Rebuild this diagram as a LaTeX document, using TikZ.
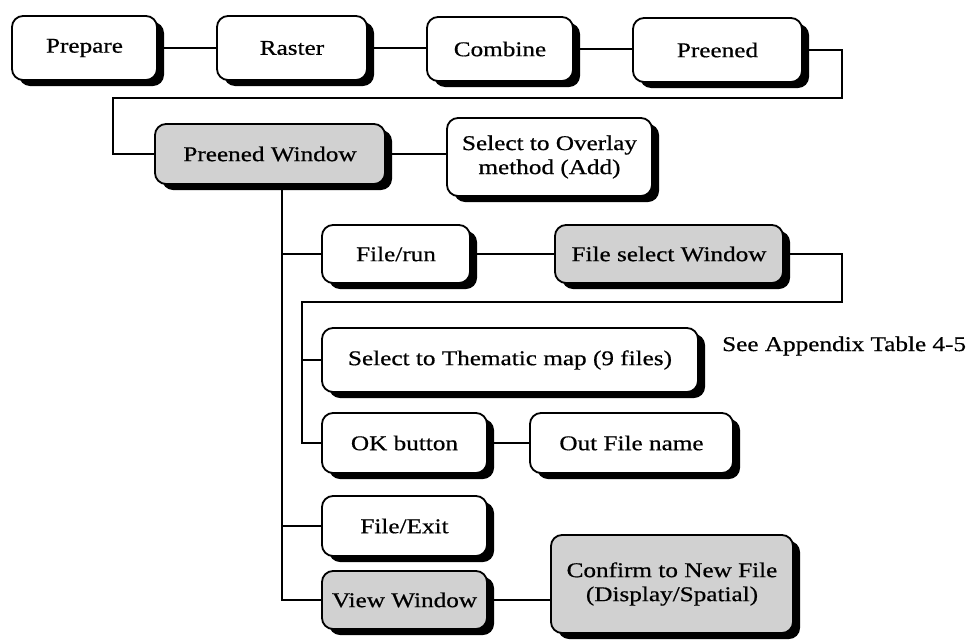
\documentclass[tikz,border=0pt]{standalone}
\usepackage{fontspec}
\setmainfont{Liberation Serif}[FakeStretch=1.2, FakeBold=0.6]
\usetikzlibrary{shadows}
\begin{document}
\begin{tikzpicture}[x=1pt,y=-1pt,
  stepbox/.style={draw=black, line width=1.8pt, rounded corners=11pt, fill=white,
    align=center, inner sep=0pt, font=\fontsize{21}{24}\selectfont,
    drop shadow={shadow xshift=7pt, shadow yshift=-6pt, fill=black, opacity=1}},
  winbox/.style={stepbox, fill=black!18},
  note/.style={font=\fontsize{21}{24}\selectfont, inner sep=0pt},
  link/.style={line width=1.8pt, black}]
\useasboundingbox (0,0) rectangle (970,643);

% top row of menu steps
\node[stepbox, minimum width=145pt, minimum height=64pt] (prepare) at (84.5,48) {Prepare};
\node[stepbox, minimum width=150pt, minimum height=64pt] (raster)  at (292,48)  {Raster};
\node[stepbox, minimum width=146pt, minimum height=64pt] (combine) at (500,49)  {Combine};
\node[stepbox, minimum width=169pt, minimum height=64pt] (preened) at (717.5,50) {Preened};

% Preened window and its options
\node[winbox,  minimum width=230pt, minimum height=60pt] (pwin)    at (270,154)   {Preened Window};
\node[stepbox, minimum width=205pt, minimum height=78pt] (overlay) at (549.5,157) {Select to Overlay\\method (Add)};
\node[stepbox, minimum width=148pt, minimum height=58pt] (filerun) at (396,254)   {File/run};
\node[winbox,  minimum width=228pt, minimum height=58pt] (fselect) at (669,254)   {File select Window};
\node[stepbox, minimum width=376pt, minimum height=64pt] (thematic) at (510,360)  {Select to Thematic map (9 files)};
\node[note, anchor=west] (appendix) at (722,346) {See Appendix Table 4-5};
\node[stepbox, minimum width=165pt, minimum height=60pt] (okbtn)   at (404.5,443) {OK button};
\node[stepbox, minimum width=203pt, minimum height=60pt] (outfile) at (631.5,443) {Out File name};
\node[stepbox, minimum width=165pt, minimum height=60pt] (fexit)   at (404.5,526) {File/Exit};
\node[winbox,  minimum width=165pt, minimum height=58pt] (view)    at (404.5,600) {View Window};
\node[winbox,  minimum width=242pt, minimum height=98pt] (confirm) at (672,584)   {Confirm to New File\\(Display/Spatial)};

% connectors
\draw[link] (prepare.east) -- (prepare.east -| raster.west);
\draw[link] (raster.east)  -- (raster.east -| combine.west);
\draw[link] (combine.east) -- (combine.east -| preened.west);

\coordinate (rtop) at (842,98);
\coordinate (ltop) at (113,98);
\draw[link] (preened.east) -| (rtop) -- (ltop) |- (pwin.west);
\draw[link] (pwin.east) -- (pwin.east -| overlay.west);

\coordinate (trunk) at (282,0);
\draw[link] (pwin.south -| trunk) |- (view.west);
\draw[link] (trunk |- filerun.west) -- (filerun.west);
\draw[link] (trunk |- fexit.west) -- (fexit.west);
\draw[link] (filerun.east) -- (filerun.east -| fselect.west);

\coordinate (rmid) at (842,302);
\coordinate (lmid) at (302,302);
\draw[link] (fselect.east) -| (rmid) -- (lmid) |- (okbtn.west);
\draw[link] (lmid |- thematic.west) -- (thematic.west);
\draw[link] (okbtn.east) -- (okbtn.east -| outfile.west);
\draw[link] (view.east) -- (view.east -| confirm.west);
\end{tikzpicture}
\end{document}
